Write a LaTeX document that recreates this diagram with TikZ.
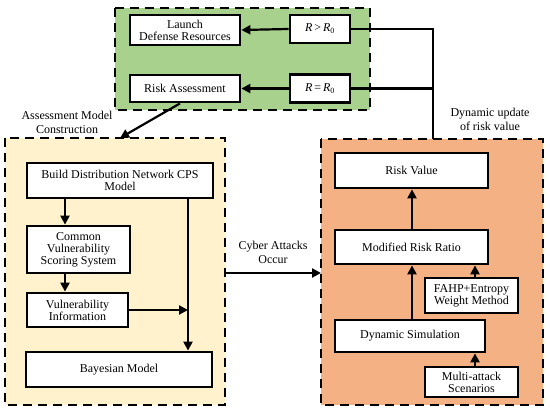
\documentclass[tikz,border=0pt]{standalone}
\usepackage{fontspec}
\setmainfont{Liberation Serif}
\usetikzlibrary{arrows.meta,calc}
\definecolor{gfill}{RGB}{169,209,142}
\definecolor{yfill}{RGB}{255,242,204}
\definecolor{ofill}{RGB}{244,177,131}
\tikzset{
  panel/.style={draw=black, line width=1.9pt, dash pattern=on 9pt off 6pt},
  blk/.style={draw=black, fill=white, line width=2.8pt, align=center, inner sep=1pt, font=\fontsize{12}{14}\selectfont},
  lbl/.style={align=center, inner sep=0pt, font=\fontsize{12}{14}\selectfont},
  conn/.style={draw=black, line width=2.2pt},
  arr/.style={conn, -{Triangle[length=9pt,width=9pt]}}
}
\begin{document}
\begin{tikzpicture}[x=1pt,y=-1pt]
\useasboundingbox (0,0) rectangle (550,414);
% panels
\fill[gfill] (115,8) rectangle (370,110);
\draw[panel] (115,8) rectangle (370,110);
\fill[yfill] (5,138) rectangle (225,405);
\draw[panel] (5,138) rectangle (225,405);
\fill[ofill] (321,139) rectangle (543,405);
\draw[panel] (321,139) rectangle (543,405);
\coordinate (ytop) at (120,138);
\coordinate (yright) at (225,273);
\coordinate (oleft) at (321,273);
\coordinate (otop) at (433,139);
% green nodes
\node[blk, minimum width=110pt, minimum height=30pt] (launch) at (185,30) {Launch\\[-2pt]Defense Resources};
\node[blk, minimum width=60pt, minimum height=28pt] (rg) at (320,29) {\textit{R}\,>\,\textit{R}\textsubscript{0}};
\node[blk, minimum width=110pt, minimum height=27pt] (risk) at (185,88.5) {Risk Assessment};
\node[blk, minimum width=60pt, minimum height=28pt] (re) at (320,88.5) {\textit{R}\,=\,\textit{R}\textsubscript{0}};
% yellow nodes
\node[blk, minimum width=186pt, minimum height=35pt] (build) at (120,180.5) {Build Distribution Network CPS\\[-2pt]Model};
\node[blk, minimum width=103pt, minimum height=47pt] (cvss) at (78.5,249.5) {Common\\[-2pt]Vulnerability\\[-2pt]Scoring System};
\node[blk, minimum width=101pt, minimum height=34pt] (vinfo) at (77.5,310) {Vulnerability\\[-2pt]Information};
\node[blk, minimum width=186pt, minimum height=35pt] (bayes) at (119,369.5) {Bayesian Model};
% orange nodes
\node[blk, minimum width=153pt, minimum height=35pt] (rv) at (411.5,170.5) {Risk Value};
\node[blk, minimum width=153pt, minimum height=34pt] (mrr) at (411.5,247) {Modified Risk Ratio};
\node[blk, minimum width=93pt, minimum height=35pt] (fahp) at (471.5,295.5) {FAHP+Entropy\\[-2pt]Weight Method};
\node[blk, minimum width=150pt, minimum height=32pt] (dyn) at (410,336) {Dynamic Simulation};
\node[blk, minimum width=93pt, minimum height=30pt] (multi) at (471.5,382) {Multi-attack\\[-2pt]Scenarios};
% labels
\node[lbl] (l1) at (67,122) {Assessment Model\\Construction};
\node[lbl] (l2) at (273,252) {Cyber Attacks\\Occur};
\node[lbl] (l3) at (490,119) {Dynamic update\\of risk value};
% connectors green
\draw[arr] (rg.west) -- (launch.east);
\draw[arr] (re.west) -- (launch.east |- re.west);
\draw[conn] (rg.east) -| (otop);
\draw[conn] (re.east) -- (otop |- re.east);
\draw[arr] ([xshift=-5pt]risk.south) -- (ytop);
% yellow connectors
\draw[arr] (build.south -| 65,0) -- (cvss.north -| 65,0);
\draw[arr] (cvss.south -| 65,0) -- (vinfo.north -| 65,0);
\draw[arr] (build.south -| 188,0) -- (bayes.north -| 188,0);
\draw[arr] (vinfo.east) -- (vinfo.east -| 188,0);
\draw[arr] (yright) -- (oleft);
% orange connectors
\draw[arr] (dyn.north -| 412,0) -- (mrr.south -| 412,0);
\draw[arr] (mrr.north -| 412,0) -- (rv.south -| 412,0);
\draw[arr] (fahp.north -| 475,0) -- (mrr.south -| 475,0);
\draw[arr] (multi.north -| 475,0) -- (dyn.south -| 475,0);
\end{tikzpicture}
\end{document}
